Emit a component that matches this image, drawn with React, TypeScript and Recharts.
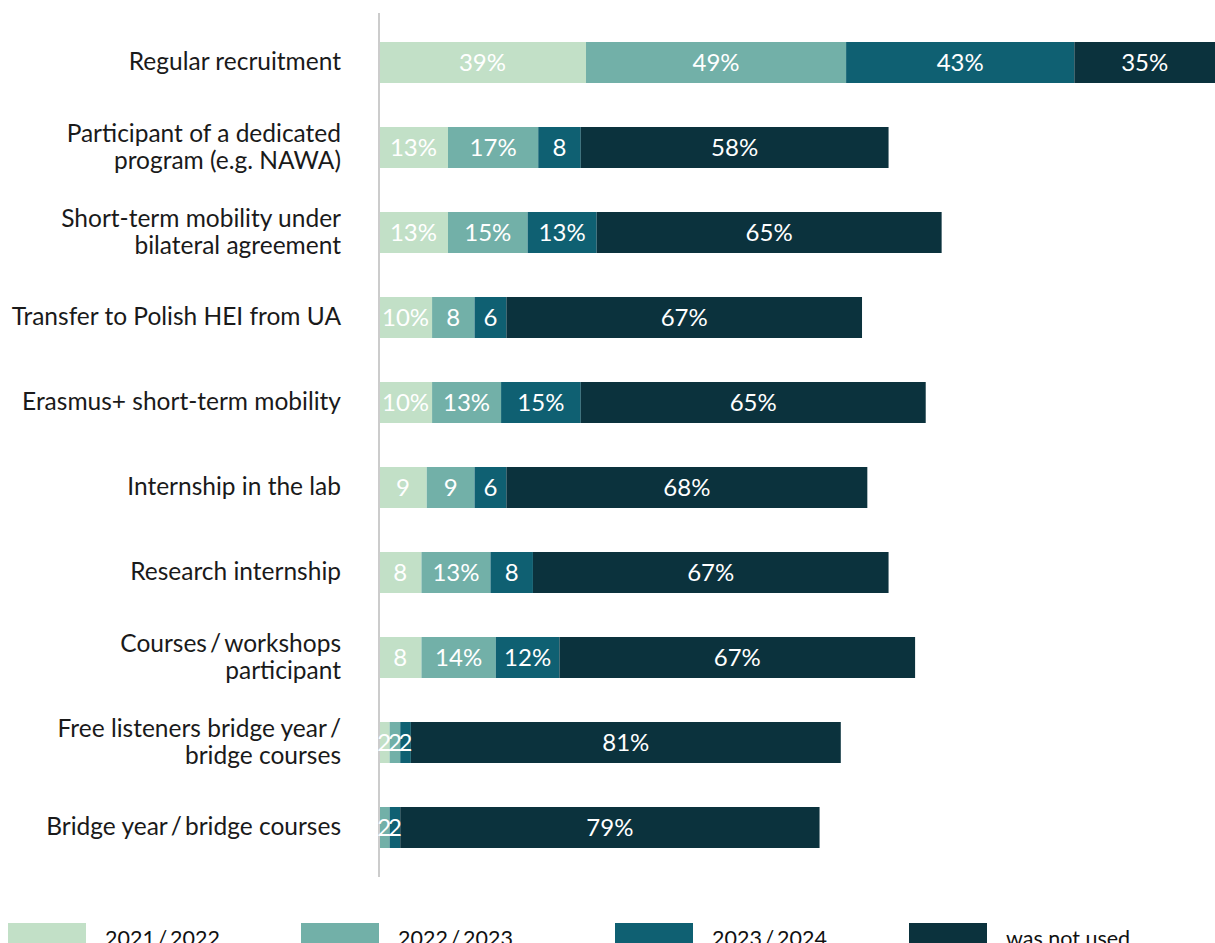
import React from 'react';
import { BarChart, Bar, XAxis, YAxis, Legend, LabelList } from 'recharts';

const categories = [
  'Regular recruitment',
  'Participant of a dedicated\nprogram (e.g. NAWA)',
  'Short-term mobility under\nbilateral agreement',
  'Transfer to Polish HEI from UA',
  'Erasmus+ short-term mobility',
  'Internship in the lab',
  'Research internship',
  'Courses\u2009/\u2009workshops\nparticipant',
  'Free listeners bridge year\u2009/\nbridge courses',
  'Bridge year\u2009/\u2009bridge courses',
];

const y2021 = [39, 13, 13, 10, 10, 9, 8, 8, 2, 0];
const y2022 = [49, 17, 15, 8, 13, 9, 13, 14, 2, 2];
const y2023 = [43, 8, 13, 6, 15, 6, 8, 12, 2, 2];
const notUsed = [35, 58, 65, 67, 65, 68, 67, 67, 81, 79];

const seriesNames = ['2021\u2009/\u20092022', '2022\u2009/\u20092023', '2023\u2009/\u20092024', 'was not used'];
const colors = ['#c2e0c7', '#72b0a8', '#0f6072', '#0b323d'];

const data = categories.map((name, i) => ({
  name,
  a: y2021[i],
  b: y2022[i],
  c: y2023[i],
  d: notUsed[i],
}));

const WIDTH = 1215;
const HEIGHT = 943;
const FONT = 'Lato, "Noto Sans", sans-serif';

const fmt = (v: number) => (v >= 10 ? `${v}%` : `${v}`);

// label centred on the visible part of the segment
const SegmentLabel = (props: any) => {
  const { x, y, width, height, value } = props;
  if (!value) return null;
  const right = Math.min(x + width, WIDTH);
  const cx = (x + right) / 2;
  return (
    <text
      x={cx}
      y={y + height / 2 - 1}
      textAnchor="middle"
      dominantBaseline="central"
      fill="#ffffff"
      fontSize={24}
      fontFamily={FONT}
    >
      {fmt(value)}
    </text>
  );
};

const CategoryTick = (props: any) => {
  const { x, y, payload } = props;
  const lines: string[] = String(payload.value).split('\n');
  const lh = 27;
  const start = y - 2 - ((lines.length - 1) * lh) / 2;
  return (
    <text textAnchor="end" fill="#1a1a1a" fontSize={24.5} fontFamily={FONT}>
      {lines.map((l, i) => (
        <tspan key={i} x={x} y={start + i * lh} dominantBaseline="central">
          {l}
        </tspan>
      ))}
    </text>
  );
};

const legendLefts = [8, 301, 615, 909];

const LegendContent = () => (
  <div style={{ position: 'relative', width: WIDTH, height: 30 }}>
    {seriesNames.map((n, i) => (
      <div
        key={n}
        style={{
          position: 'absolute',
          left: legendLefts[i],
          top: 0,
          display: 'flex',
          alignItems: 'flex-start',
        }}
      >
        <div style={{ width: 78, height: 26, background: colors[i] }} />
        <span
          style={{
            marginLeft: 19,
            fontFamily: FONT,
            fontSize: 21.5,
            color: '#111',
            lineHeight: '26px',
            marginTop: 2,
            whiteSpace: 'nowrap',
          }}
        >
          {n}
        </span>
      </div>
    ))}
  </div>
);

const App: React.FC = () => {
  return (
    <div
      style={{
        position: 'absolute',
        left: 0,
        top: 0,
        width: WIDTH,
        height: HEIGHT,
        overflow: 'hidden',
        background: '#fff',
      }}
    >
      <BarChart
        width={WIDTH}
        height={HEIGHT}
        data={data}
        layout="vertical"
        margin={{ top: 13, right: 0, bottom: 36, left: 0 }}
      >
        <XAxis type="number" hide domain={[0, 157.5]} allowDataOverflow />
        <YAxis
          type="category"
          dataKey="name"
          width={379}
          padding={{ top: 7, bottom: 7 }}
          tickLine={false}
          tickSize={0}
          tickMargin={38}
          axisLine={{ stroke: '#cccccc', strokeWidth: 2 }}
          tick={<CategoryTick />}
          interval={0}
        />
        <Legend
          verticalAlign="bottom"
          wrapperStyle={{ left: 0, top: 923, width: WIDTH }}
          content={<LegendContent />}
        />
        {(['a', 'b', 'c', 'd'] as const).map((k, i) => (
          <Bar
            key={k}
            dataKey={k}
            name={seriesNames[i]}
            stackId="s"
            fill={colors[i]}
            barSize={41}
            isAnimationActive={false}
          >
            <LabelList dataKey={k} content={<SegmentLabel />} />
          </Bar>
        ))}
      </BarChart>
    </div>
  );
};

export default App;
